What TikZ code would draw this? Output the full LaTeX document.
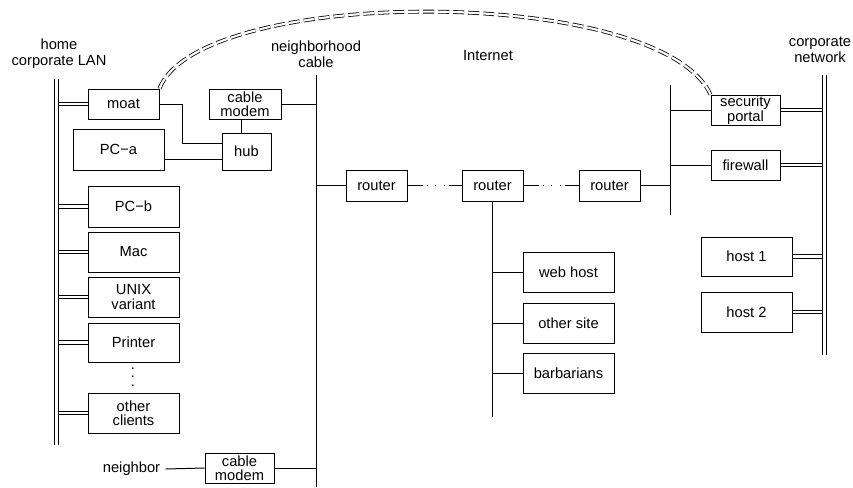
\documentclass[tikz,border=0pt]{standalone}
\usepackage{fontspec}
\setmainfont{Liberation Sans}
\usetikzlibrary{calc}
\begin{document}
\begin{tikzpicture}[x=1pt,y=-1pt, line width=1pt,
  every node/.style={font=\fontsize{14.7}{14.5}\selectfont, inner sep=0pt},
  box/.style={draw, minimum width=91pt, minimum height=40pt, align=center},
  sbox/.style={draw, minimum width=69pt, minimum height=30pt, align=center},
  lbl/.style={align=center, font=\fontsize{14.7}{16}\selectfont},
  dbl/.style={double, double distance=2.6pt, line width=0.9pt},
  bus/.style={double, double distance=3pt, line width=1pt},
  dotlink/.style={dash pattern=on 15pt off 4pt on 0.9pt off 7.6pt on 0.9pt off 7.6pt on 0.9pt off 4.6pt on 30pt},
  tunnel/.style={double, double distance=2.2pt, line width=0.8pt, dash pattern=on 11pt off 4pt}
]
\useasboundingbox (0,0) rectangle (853,487);
% labels
\node[lbl] (homelbl) at (59,53.5) {home\\corporate LAN};
\node[lbl] (nbhlbl) at (316,54) {neighborhood\\cable};
\node[lbl] (inetlbl) at (488,56) {Internet};
\node[lbl] (corplbl) at (820,50) {corporate\\network};
% bus ends
\coordinate (lbusT) at (56.5,79);  \coordinate (lbusB) at (56.5,445);
\coordinate (nbusT) at (316,75);   \coordinate (nbusB) at (316,487);
\coordinate (ibusT) at (670,85);   \coordinate (ibusB) at (670,215);
\coordinate (cbusT) at (824,75);   \coordinate (cbusB) at (824,355);
\coordinate (r2B) at (492.5,417);
% home nodes
\node[draw, minimum width=71pt, minimum height=30pt] (moat) at (123.5,104) {moat};
\node[draw, minimum width=72pt, minimum height=30pt, align=center] (cm1) at (245,104) {cable\\modem};
\node[draw, minimum width=49pt, minimum height=37pt] (hub) at (246.5,151.5) {hub};
\node[box, minimum height=41pt] (pca) at (118.5,149.5) {PC−a};
\node[box, minimum height=41pt] (pcb) at (133.5,206.5) {PC−b};
\node[box] (mac) at (133.5,252) {Mac};
\node[box] (unix) at (133.5,297) {UNIX\\variant};
\node[box, minimum height=39pt] (printer) at (133.5,342.5) {Printer};
\node (dots) at (133,377) {\vbox{\baselineskip=8.5pt\lineskiplimit=-100pt\hbox{.}\hbox{.}\hbox{.}}};
\node[box] (other) at (133.5,413) {other\\clients};
\node (nbr) at (131.5,469) {neighbor};
\node[sbox] (cm2) at (239.5,468) {cable\\modem};
% internet
\node[draw, minimum width=61pt, minimum height=31pt] (r1) at (376.5,185.5) {router};
\node[draw, minimum width=61pt, minimum height=31pt] (r2) at (492.5,185.5) {router};
\node[draw, minimum width=61pt, minimum height=31pt] (r3) at (609.5,185.5) {router};
\node[box] (web) at (568.5,272) {web host};
\node[box] (oth) at (568.5,323) {other site};
\node[box] (barb) at (568.5,373) {barbarians};
% corporate
\node[sbox] (sp) at (745.5,110) {security\\portal};
\node[sbox] (fw) at (745.5,165) {firewall};
\node[box, minimum height=39pt] (h1) at (746.5,256.5) {host 1};
\node[box] (h2) at (746.5,312) {host 2};
% connectors
\coordinate (hubA) at ($(hub.west)+(0,-8.5)$);
\coordinate (hubB) at ($(hub.west)+(0,7.5)$);
\foreach \n in {moat,pcb,mac,unix,printer,other}
  \draw[dbl] (\n.west) -- (\n.west -| lbusT);
\foreach \n in {sp,fw,h1,h2}
  \draw[dbl] (\n.east) -- (\n.east -| cbusT);
\draw (moat.east) -- ++(23,0) |- (hubA);
\draw (pca.east |- hubB) -- (hubB);
\draw ($(cm1.south)+(-4,0)$) -- ($(hub.north)+(-5.5,0)$);
\draw (cm1.east) -- (cm1.east -| nbusT);
\draw (r1.west) -- (r1.west -| nbusT);
\draw[dotlink] (r1.east) -- (r2.west);
\draw[dotlink] (r2.east) -- (r3.west);
\draw (r3.east) -- (r3.east -| ibusT);
\draw (sp.west) -- (sp.west -| ibusT);
\draw (fw.west) -- (fw.west -| ibusT);
\draw (r2.south) -- (r2B);
\foreach \n in {web,oth,barb}
  \draw (\n.west) -- (\n.west -| r2B);
\draw ([xshift=5pt]nbr.east) -- (cm2.west);
\draw (cm2.east) -- (cm2.east -| nbusT);
% buses
\draw[bus] (lbusT) -- (lbusB);
\draw (nbusT) -- (nbusB);
\draw (ibusT) -- (ibusB);
\draw[bus] (cbusT) -- (cbusB);
% tunnel
\draw[tunnel] (moat.north east) .. controls (200,-15) and (660,-15) .. (sp.north west);
\end{tikzpicture}
\end{document}
